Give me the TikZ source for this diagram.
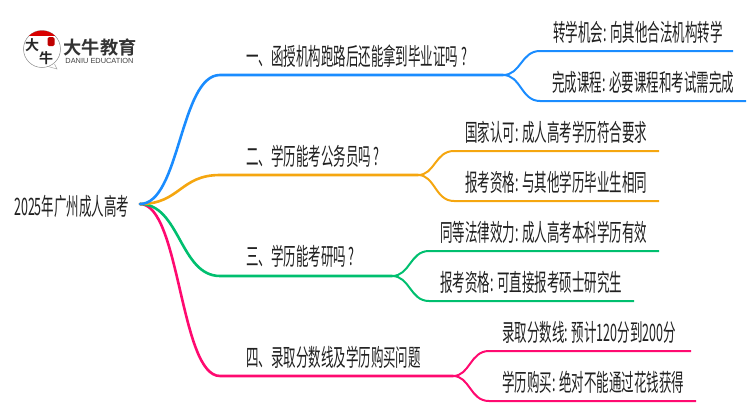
\documentclass[tikz,border=0pt]{standalone}
\usepackage{fontspec}
\newfontfamily\cjk[FakeStretch=0.52]{Noto Sans CJK SC}
\newfontfamily\cjklogo{Noto Sans CJK SC Bold}
\newfontfamily\latinlogo{Liberation Sans}
\definecolor{cblue}{HTML}{1A8CFF}
\definecolor{corange}{HTML}{F5A60F}
\definecolor{cgreen}{HTML}{00BF6F}
\definecolor{cpink}{HTML}{FF0A70}
\definecolor{ctext}{HTML}{202020}
\tikzset{
  lbl/.style={inner sep=0pt,anchor=base west,text=ctext,font=\cjk\fontsize{24}{26}\selectfont},
  mainline/.style={line width=2.6pt,line cap=round},
  subline/.style={line width=2pt,line cap=butt},
}
\begin{document}
\begin{tikzpicture}[x=1pt,y=-1pt]
\useasboundingbox (0,0) rectangle (750,410);
% logo
\draw[black!45,line width=.5pt] (42,49) circle (18.5);
\draw[black!35,line width=.5pt] (48,66.5) -- (57,69) -- (54.5,64);
\begin{scope}
\clip (42,49) circle (18.5);
\fill[red!85!black] (22,29) rectangle (62,35.5);
\end{scope}
\fill[red!75!black,rounded corners=1.5pt] (47.5,37) rectangle (54.5,46);
\node[inner sep=0pt,font=\cjklogo\fontsize{14}{14}\selectfont,text=black!85] (logoa) at (32,45) {大};
\node[inner sep=0pt,font=\cjklogo\fontsize{14}{14}\selectfont,text=black!85] (logob) at (46,58) {牛};
\node[inner sep=0pt,font=\cjklogo\fontsize{18.2}{18}\selectfont,text=black!80] (logoc) at (100,47) {大牛教育};
\node[inner sep=0pt,font=\latinlogo\fontsize{7.4}{8}\selectfont,text=black!75] (logod) at (99.5,60.5) {DANIU EDUCATION};
% root
\node[lbl] (root) at (14,215) {2025年广州成人高考};
\coordinate (r) at (140,204);
% hubs and line ends
\coordinate (b1) at (220,75);  \coordinate (h1) at (503,75);
\coordinate (b2) at (220,175); \coordinate (h2) at (418,175);
\coordinate (b3) at (220,276); \coordinate (h3) at (392,276);
\coordinate (b4) at (220,376); \coordinate (h4) at (453,376);
% main connectors
\draw[mainline,cpink] (r) .. controls (180,204) and (180,376) .. (b4) -- (h4);
\draw[mainline,cgreen] (r) .. controls (180,204) and (180,276) .. (b3) -- (h3);
\draw[mainline,corange] (r) .. controls (180,204) and (180,175) .. (b2) -- (h2);
\draw[mainline,cblue] (r) .. controls (180,204) and (180,75) .. (b1) -- (h1);
% branch labels
\node[lbl] (t1) at (246,65) {一、函授机构跑路后还能拿到毕业证吗 ?};
\node[lbl] (t2) at (246,165) {二、学历能考公务员吗 ?};
\node[lbl] (t3) at (246,265) {三、学历能考研吗 ?};
\node[lbl] (t4) at (246,366) {四、录取分数线及学历购买问题};
% leaves
\node[lbl] (a1) at (553,41) {转学机会: 向其他合法机构转学};
\node[lbl] (a2) at (552,91) {完成课程: 必要课程和考试需完成};
\node[lbl] (b1t) at (465,141) {国家认可: 成人高考学历符合要求};
\node[lbl] (b2t) at (465,191) {报考资格: 与其他学历毕业生相同};
\node[lbl] (c1t) at (440,241) {同等法律效力: 成人高考本科学历有效};
\node[lbl] (c2t) at (440,291) {报考资格: 可直接报考硕士研究生};
\node[lbl] (d1t) at (502,341) {录取分数线: 预计120分到200分};
\node[lbl] (d2t) at (502,391) {学历购买: 绝对不能通过花钱获得};
% leaf connectors
\coordinate (e1) at (733,51); \coordinate (e2) at (746,101);
\coordinate (e3) at (659,151); \coordinate (e4) at (659,201);
\coordinate (e5) at (659,251); \coordinate (e6) at (634,301);
\coordinate (e7) at (691,351); \coordinate (e8) at (696,401);
\draw[subline,cblue] (h1) .. controls (521,75) and (521,51) .. (540,51) -- (e1);
\draw[subline,cblue] (h1) .. controls (521,75) and (521,101) .. (540,101) -- (e2);
\draw[subline,corange] (h2) .. controls (435,175) and (435,151) .. (454,151) -- (e3);
\draw[subline,corange] (h2) .. controls (435,175) and (435,201) .. (454,201) -- (e4);
\draw[subline,cgreen] (h3) .. controls (410,276) and (410,251) .. (429,251) -- (e5);
\draw[subline,cgreen] (h3) .. controls (410,276) and (410,301) .. (429,301) -- (e6);
\draw[subline,cpink] (h4) .. controls (470,376) and (470,351) .. (489,351) -- (e7);
\draw[subline,cpink] (h4) .. controls (470,376) and (470,401) .. (489,401) -- (e8);
\end{tikzpicture}
\end{document}
